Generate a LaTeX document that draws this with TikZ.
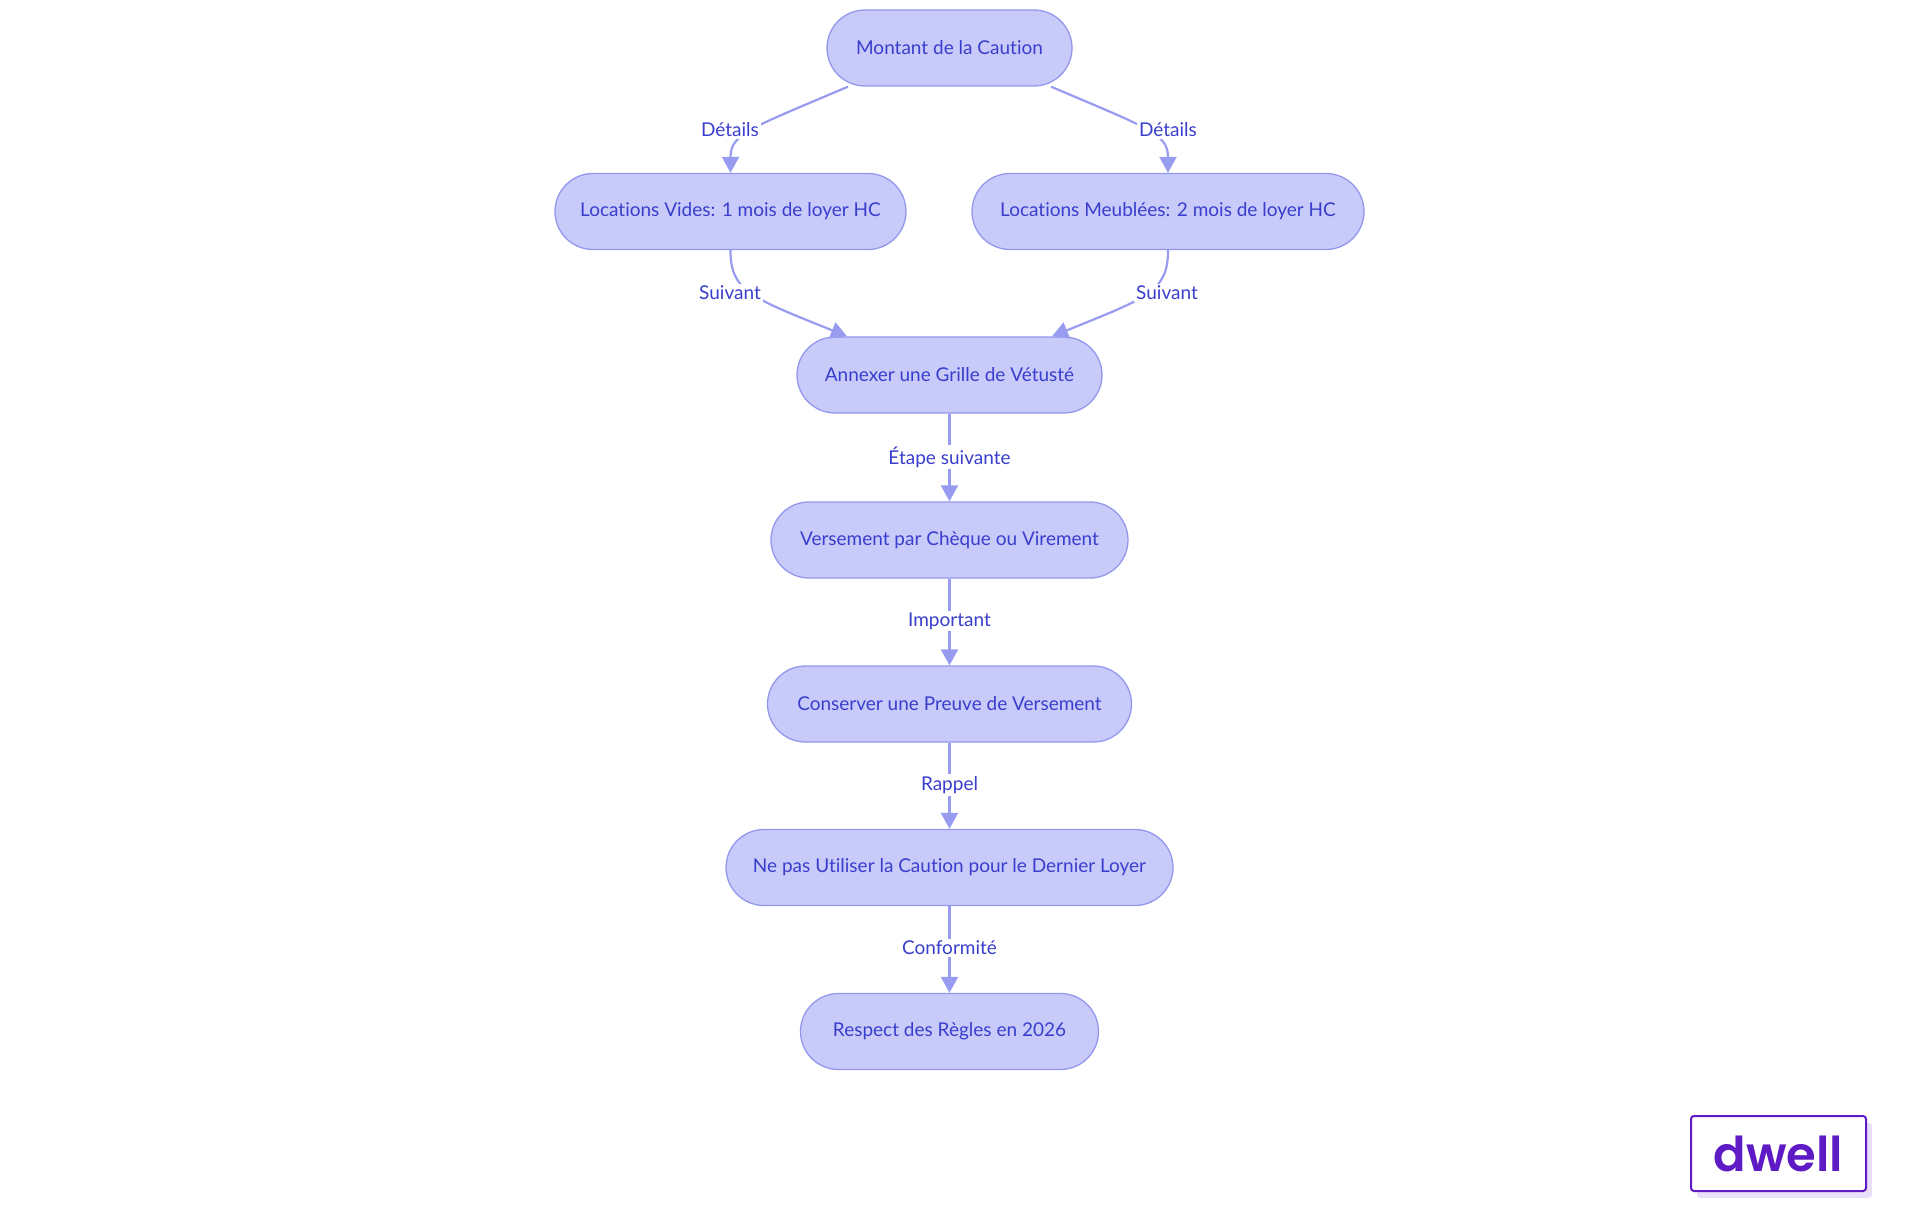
\documentclass[tikz,border=0pt]{standalone}
\usepackage{fontspec}
\setmainfont{Lato}[Ligatures=NoCommon]
\newfontfamily\logofont{Poppins}[BoldFont={* SemiBold}]
\usetikzlibrary{arrows.meta,calc,shadows}
\definecolor{nodefill}{RGB}{200,202,250}
\definecolor{nodestroke}{RGB}{148,152,236}
\definecolor{nodetext}{RGB}{57,62,204}
\definecolor{edgecol}{RGB}{152,156,240}
\definecolor{logopurple}{RGB}{94,26,196}
\definecolor{logoshadow}{RGB}{233,223,250}
\tikzset{
  stadium/.style={draw=nodestroke, fill=nodefill, line width=1.3pt,
    rounded corners=38pt, minimum height=76pt, inner xsep=0pt,
    text=nodetext, font=\fontsize{19}{22}\selectfont},
  conn/.style={draw=edgecol, line width=2.2pt,
    -{Triangle[length=16pt,width=17pt]}},
  elabel/.style={fill=white, inner sep=2pt, text=nodetext,
    font=\fontsize{19}{22}\selectfont},
}
\begin{document}
\begin{tikzpicture}[x=1pt,y=-1pt]
\useasboundingbox (0,0) rectangle (1920,1215);
\node[stadium, minimum width=245pt] (top) at (949.5,48) {Montant de la Caution};
\node[stadium, minimum width=351pt] (vides) at (730.5,211.5) {Locations Vides: 1 mois de loyer HC};
\node[stadium, minimum width=392pt] (meub) at (1168,211.5) {Locations Meublées: 2 mois de loyer HC};
\node[stadium, minimum width=305pt] (annex) at (949.5,375) {Annexer une Grille de Vétusté};
\node[stadium, minimum width=357pt] (vers) at (949.5,540) {Versement par Chèque ou Virement};
\node[stadium, minimum width=364pt] (cons) at (949.5,704) {Conserver une Preuve de Versement};
\node[stadium, minimum width=447pt] (nepas) at (949.5,867.5) {Ne pas Utiliser la Caution pour le Dernier Loyer};
\node[stadium, minimum width=298pt] (resp) at (949.5,1031.5) {Respect des Règles en 2026};

% curved edges
\draw[conn] ($(top.south)+(-101.5,0)$) .. controls ($(top.south)+(-200,42)$) and ($(vides.north)+(0,-39)$) .. (vides.north);
\draw[conn] ($(top.south)+(101.5,0)$) .. controls ($(top.south)+(200,42)$) and ($(meub.north)+(0,-39)$) .. (meub.north);
\draw[conn] (vides.south) .. controls ($(vides.south)+(0,41)$) and ($(annex.north)+(-199,-39)$) .. ($(annex.north)+(-102.5,0)$);
\draw[conn] (meub.south) .. controls ($(meub.south)+(0,41)$) and ($(annex.north)+(199,-39)$) .. ($(annex.north)+(102.5,0)$);
% straight edges
\draw[conn] (annex.south) -- (vers.north);
\draw[conn] (vers.south) -- (cons.north);
\draw[conn] (cons.south) -- (nepas.north);
\draw[conn] (nepas.south) -- (resp.north);

% labels
\node[elabel] (l1) at (730,130) {Détails};
\node[elabel] (l2) at (1168,130) {Détails};
\node[elabel] (l3) at (730,293) {Suivant};
\node[elabel] (l4) at (1167,293) {Suivant};
\node[elabel] (l5) at (949.5,457) {Étape suivante};
\node[elabel] (l6) at (949.5,621) {Important};
\node[elabel] (l7) at (949.5,785) {Rappel};
\node[elabel] (l8) at (949.5,948) {Conformité};

% logo
\node[draw=logopurple, fill=white, line width=2pt, rounded corners=3pt,
  minimum width=175pt, minimum height=75pt, inner sep=0pt,
  drop shadow={shadow xshift=6pt, shadow yshift=-7pt, fill=logoshadow, opacity=1},
  text=logopurple, font=\logofont\bfseries\fontsize{48}{56}\selectfont] (logo) at (1778.5,1153.5) {dwell};
\end{tikzpicture}
\end{document}
